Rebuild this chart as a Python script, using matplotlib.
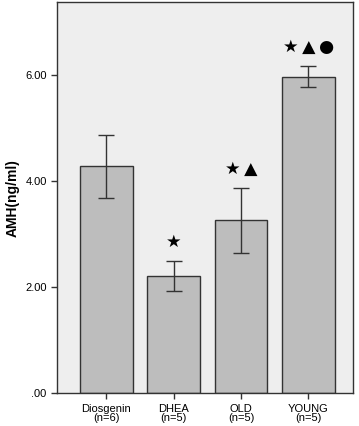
import matplotlib
matplotlib.use("Agg")
import matplotlib.pyplot as plt

plt.rcParams['font.family'] = ['Liberation Sans', 'DejaVu Sans']

groups = ['Diosgenin\n(n=6)', 'DHEA\n(n=5)', 'OLD\n(n=5)', 'YOUNG\n(n=5)']
means = [4.28, 2.21, 3.26, 5.97]
err_low = [3.68, 1.92, 2.64, 5.77]
err_high = [4.87, 2.49, 3.87, 6.17]
marks = ['', '★', '★\u2009▲', '★\u2009▲\u2009●']

fig = plt.figure(figsize=(3.59, 4.26), dpi=100)
ax = fig.add_axes([0.159, 0.077, 0.824, 0.918])
ax.set_facecolor('#eeeeee')

x = list(range(len(groups)))
ax.bar(x, means, width=0.78, color='#bdbdbd', edgecolor='#333333', linewidth=1.0, zorder=2)
yerr = [[m - lo for m, lo in zip(means, err_low)], [hi - m for m, hi in zip(means, err_high)]]
ax.errorbar(x, means, yerr=yerr, fmt='none', ecolor='#333333', elinewidth=1.0, capsize=6, capthick=1.0, zorder=3)

for xi, hi, m in zip(x, err_high, marks):
    if m:
        ax.text(xi, hi + 0.2, m, ha='center', va='bottom', fontsize=12.5,
                family=['DejaVu Sans'], color='black')

ax.set_xlim(-0.73, 3.66)
ax.set_ylim(0, 7.38)
ax.set_yticks([0, 2, 4, 6])
ax.set_yticklabels(['.00', '2.00', '4.00', '6.00'], fontsize=8)
ax.set_xticks(x)
ax.set_xticklabels(groups, fontsize=8, linespacing=0.95)
ax.tick_params(axis='both', length=4, width=1, color='#333333')
ax.set_ylabel('AMH(ng/ml)', fontsize=10, fontweight='bold')
for s in ax.spines.values():
    s.set_color('#333333')
    s.set_linewidth(1.0)

fig.savefig('out.png', dpi=100)
